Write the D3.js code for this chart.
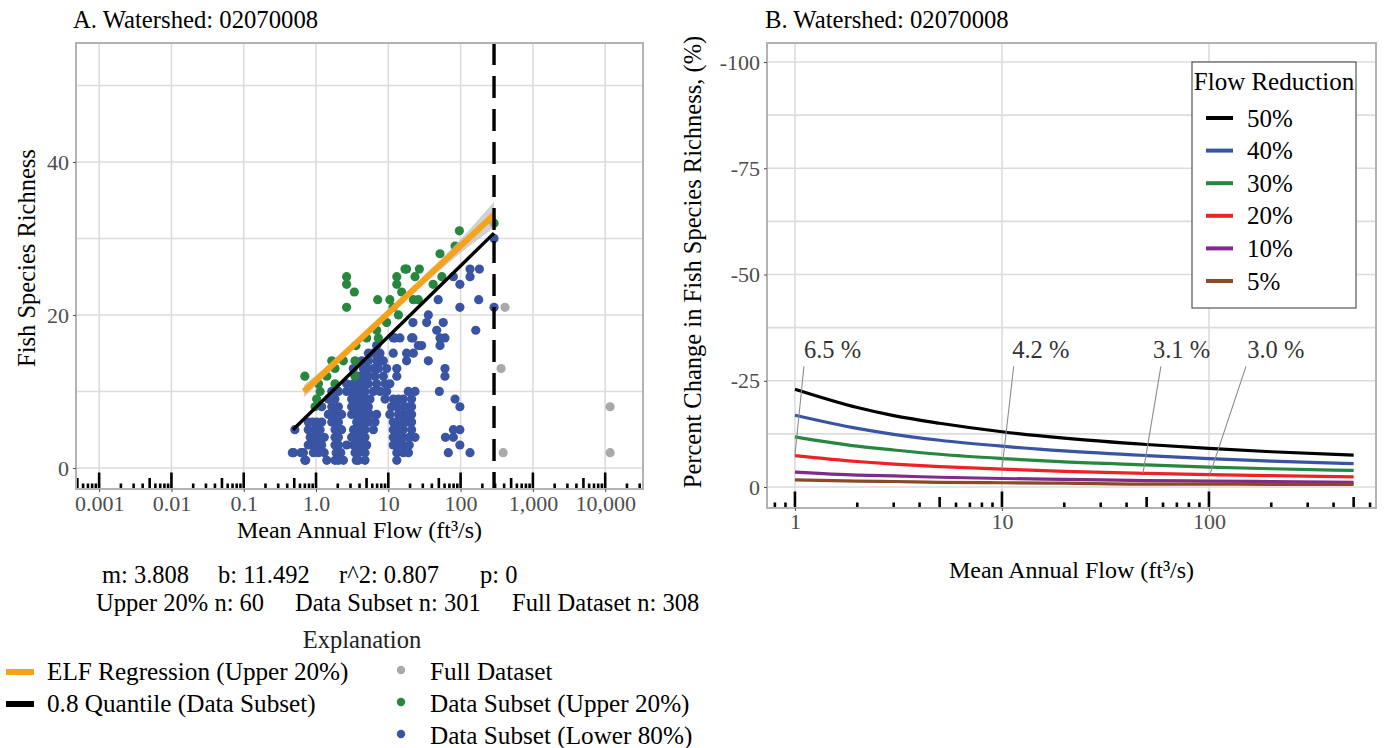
<!DOCTYPE html>
<html>
<head>
<meta charset="utf-8">
<script src="https://cdnjs.cloudflare.com/ajax/libs/d3/7.8.5/d3.min.js"></script>
<style>
  body { margin: 0; background: #ffffff; }
  svg { font-family: "Liberation Serif", "Times New Roman", serif; }
  .tick text { fill: #4d4d4d; }
</style>
</head>
<body>
<svg id="chart" width="1386" height="748"></svg>
<script>
// ---------- data ----------
const watershed = "02070008";

// points of the full dataset that fall outside the subset: [flow ft3/s, richness]
const fullPoints = [[411, 21], [363, 13], [388, 2], [11700, 8], [11700, 2]];

// data subset, upper 20% (above the 0.8 quantile)
const upperPoints = [
    [0.70, 12], [1.08, 11], [1.14, 10], [1.02, 9], [0.97, 8],
    [1.65, 14], [1.83, 13], [1.83, 11], [3.46, 14], [3.46, 12],
    [3.57, 16], [7.28, 17], [6.90, 18], [9.48, 19], [13.8, 20],
    [2.65, 21], [3.39, 23], [2.65, 24], [2.65, 25], [7.13, 22],
    [10.5, 22], [13.1, 24], [13.1, 25], [15.3, 23], [17.0, 26],
    [17.9, 26], [26.9, 26], [23.4, 25], [22.2, 22], [26.0, 22],
    [41.7, 24], [55.0, 25], [51.9, 28], [83.8, 29], [96.2, 31],
    [290, 32], [1.41, 12], [2.39, 14], [5.02, 17], [11.7, 21]
];

// data subset, lower 80%
const lowerPoints = [
    [0.70, 1], [0.72, 1], [1.41, 1], [1.83, 1], [2.39, 1], [3.85, 1], [4.76, 1], [13.1, 1], [2.04, 1], [3.60, 1],
    [0.47, 2], [0.49, 2], [0.62, 2], [0.67, 2], [0.92, 2], [1.08, 2], [2.04, 2], [3.46, 2], [4.76, 2], [67.6, 2],
    [135, 2], [1.30, 2], [1.90, 2], [2.20, 2], [3.90, 2], [13.1, 2], [16.1, 2], [19.0, 2],
    [0.87, 3], [1.02, 3], [1.20, 3], [1.83, 3], [2.65, 3], [3.65, 3], [5.02, 3], [11.7, 3], [16.1, 3], [97.7, 3],
    [0.78, 3], [2.04, 3], [3.30, 3], [4.30, 3], [13.8, 3], [19.5, 3],
    [0.83, 4], [1.08, 4], [1.83, 4], [3.11, 4], [4.76, 4], [11.7, 4], [13.8, 4], [16.1, 4], [23.4, 4], [61.7, 4],
    [79.4, 4], [0.95, 4], [1.30, 4], [2.04, 4], [3.65, 4], [4.30, 4], [19.5, 4],
    [0.51, 5], [0.78, 5], [0.97, 5], [1.14, 5], [1.83, 5], [2.26, 5], [4.06, 5], [6.21, 5], [16.1, 5], [21.0, 5],
    [79.4, 5], [97.7, 5], [1.02, 5], [3.30, 5], [3.85, 5], [4.76, 5], [13.1, 5], [11.7, 5],
    [0.78, 6], [1.02, 6], [1.65, 6], [2.04, 6], [3.65, 6], [5.30, 6], [6.55, 6], [11.7, 6], [16.1, 6], [21.0, 6],
    [0.90, 6], [1.20, 6], [1.83, 6], [4.30, 6], [13.8, 6], [18.0, 6],
    [1.48, 7], [1.83, 7], [2.26, 7], [3.11, 7], [4.06, 7], [5.58, 7], [6.90, 7], [10.5, 7], [13.8, 7], [16.1, 7],
    [21.0, 7], [3.65, 7], [4.76, 7], [18.9, 7],
    [1.20, 8], [3.65, 8], [4.76, 8], [11.1, 8], [13.1, 8], [21.0, 8], [97.7, 8], [1.65, 8], [2.04, 8], [3.11, 8],
    [4.30, 8], [5.30, 8], [16.1, 8], [18.9, 8],
    [1.48, 9], [3.11, 9], [4.06, 9], [9.00, 9], [11.7, 9], [16.1, 9], [21.0, 9], [83.8, 9], [1.83, 9], [3.65, 9],
    [4.76, 9], [5.58, 9], [13.8, 9],
    [1.65, 10], [2.04, 10], [2.65, 10], [3.65, 10], [4.76, 10], [7.67, 10], [18.9, 10], [23.4, 10], [50.8, 10],
    [3.11, 10], [4.30, 10], [6.21, 10], [9.50, 10],
    [2.65, 11], [3.28, 11], [4.06, 11], [5.30, 11], [9.00, 11], [10.5, 11], [3.65, 11], [4.76, 11], [6.90, 11],
    [3.65, 12], [4.76, 12], [5.30, 12], [6.55, 12], [13.1, 12], [60.8, 12], [4.06, 12], [8.53, 12],
    [3.28, 13], [4.52, 13], [5.02, 13], [6.21, 13], [7.28, 13], [9.48, 13], [13.1, 13], [60.8, 13],
    [4.30, 14], [5.30, 14], [6.90, 14], [8.09, 14], [8.53, 14], [17.9, 14], [35.8, 14],
    [5.30, 15], [6.21, 15], [7.67, 15], [11.7, 15], [17.9, 15], [22.2, 15],
    [6.90, 16], [26.0, 16], [28.9, 16], [51.9, 16],
    [11.7, 17], [12.4, 17], [14.5, 17], [21.0, 17], [21.9, 17], [51.9, 17], [60.8, 17],
    [46.7, 18], [162, 18],
    [21.9, 19], [33.9, 19], [57.5, 19],
    [35.8, 20],
    [97.7, 21], [290, 21],
    [49.0, 22], [178, 22],
    [97.7, 24],
    [79.4, 25], [135, 25],
    [135, 26], [182, 26],
    [290, 30]
];

// fitted lines (ends read at the plot)
const elfFlow = [0.68, 290];
const elfRich = [10.0, 33.1];
const quantFlow = [0.48, 290];
const quantRich = [5.0, 30.7];
const bandFlow = [0.68, 3, 20, 100, 290];
const bandLo = [9.2, 15.3, 22.4, 28.1, 31.4];
const bandHi = [10.8, 16.05, 23.4, 29.9, 34.8];
const cutoffFlow = 290;

const xTicksA = [0.001, 0.01, 0.1, 1, 10, 100, 1000, 10000];
const xLabelsA = ["0.001", "0.01", "0.1", "1.0", "10", "100", "1,000", "10,000"];
const yTicksA = [0, 20, 40];

const statsLine1 = ["m: 3.808", "b: 11.492", "r^2: 0.807", "p: 0"];
const statsLine2 = ["Upper 20% n: 60", "Data Subset n: 301", "Full Dataset n: 308"];

// panel B: percent change in richness for each flow reduction
const reductions = ["50%", "40%", "30%", "20%", "10%", "5%"];
const curveFlow = [1, 2, 3, 5, 10, 20, 50, 100, 200, 500];
const pct50 = [-23.0, -18.7, -16.8, -15.0, -13.0, -11.5, -10.0, -9.1, -8.3, -7.5];
const pct40 = [-16.9, -13.8, -12.4, -11.0, -9.6, -8.5, -7.4, -6.7, -6.1, -5.5];
const pct30 = [-11.8, -9.6, -8.7, -7.7, -6.7, -5.9, -5.2, -4.7, -4.3, -3.9];
const pct20 = [-7.4, -6.0, -5.4, -4.8, -4.2, -3.7, -3.2, -2.9, -2.7, -2.4];
const pct10 = [-3.5, -2.8, -2.6, -2.3, -2.0, -1.8, -1.5, -1.4, -1.3, -1.1];
const pct5 = [-1.7, -1.4, -1.3, -1.1, -1.0, -0.9, -0.7, -0.7, -0.6, -0.6];
const curveColors = ["#000000", "#3a54a4", "#27873f", "#ee2225", "#7f2b8c", "#8a4a26"];

const noteText = ["6.5 %", "4.2 %", "3.1 %", "3.0 %"];
const noteFlow = [1, 10, 48, 101];
const notePct = [-7.4, -4.2, -3.2, -2.9];
const noteLabelFlow = [1.105, 11.2, 53.6, 153];
const noteTopFlow = [1.105, 11.4, 58.6, 151];

const xTicksB = [1, 10, 100];
const yTicksB = [-100, -75, -50, -25, 0];
const yGridB = [-100, -87.5, -75, -62.5, -50, -37.5, -25, -12.5, 0];

// ---------- drawing ----------
const svg = d3.select("#chart");
const gridColor = "#dcdcdc";
const borderColor = "#b3b3b3";
const dotR = 4.6;

function logTicks(g, scale, yBottom) {
    const [lo, hi] = scale.domain();
    const ticks = [];
    for (let e = Math.floor(Math.log10(lo)) - 1; e <= Math.ceil(Math.log10(hi)); e++) {
        for (let m = 1; m <= 9; m++) {
            const v = m * Math.pow(10, e);
            if (v >= lo && v <= hi) ticks.push({ v: v, len: m === 1 ? 16.5 : (m === 5 ? 11 : 5.5) });
        }
    }
    g.selectAll("line.logtick")
        .data(ticks)
        .enter()
        .append("line")
        .attr("class", "logtick")
        .attr("x1", d => scale(d.v))
        .attr("x2", d => scale(d.v))
        .attr("y1", yBottom)
        .attr("y2", d => yBottom - d.len)
        .attr("stroke", "#000")
        .attr("stroke-width", 2.6);
}

// ===== Panel A =====
const A = { left: 76, right: 643, top: 43, bottom: 489 };
const xA = d3.scaleLog()
    .domain([Math.pow(10, -3.32), Math.pow(10, 4.523)])
    .range([A.left, A.right]);
const yA = d3.scaleLinear()
    .domain([-2.75, 55.55])
    .range([A.bottom, A.top]);

const gA = svg.append("g");

gA.append("g")
    .selectAll("line")
    .data(xTicksA)
    .enter()
    .append("line")
    .attr("x1", d => xA(d)).attr("x2", d => xA(d))
    .attr("y1", A.top).attr("y2", A.bottom)
    .attr("stroke", gridColor).attr("stroke-width", 1.6);

gA.append("g")
    .selectAll("line")
    .data(d3.range(0, 51, 10))
    .enter()
    .append("line")
    .attr("x1", A.left).attr("x2", A.right)
    .attr("y1", d => yA(d)).attr("y2", d => yA(d))
    .attr("stroke", gridColor).attr("stroke-width", 1.6);

// points
gA.append("g")
    .selectAll("circle")
    .data(fullPoints)
    .enter()
    .append("circle")
    .attr("cx", d => xA(d[0])).attr("cy", d => yA(d[1]))
    .attr("r", dotR).attr("fill", "#a9a9a9");

gA.append("g")
    .selectAll("circle")
    .data(lowerPoints)
    .enter()
    .append("circle")
    .attr("cx", d => xA(d[0])).attr("cy", d => yA(d[1]))
    .attr("r", dotR).attr("fill", "#3a54a4");

gA.append("g")
    .selectAll("circle")
    .data(upperPoints)
    .enter()
    .append("circle")
    .attr("cx", d => xA(d[0])).attr("cy", d => yA(d[1]))
    .attr("r", dotR).attr("fill", "#27873f");

// confidence band + lines
const band = bandFlow.map((f, i) => ({ f: f, lo: bandLo[i], hi: bandHi[i] }));
gA.append("path")
    .datum(band)
    .attr("d", d3.area()
        .x(d => xA(d.f))
        .y0(d => yA(d.lo))
        .y1(d => yA(d.hi))
        .curve(d3.curveMonotoneX))
    .attr("fill", "#bdbdbd")
    .attr("opacity", 0.7);

gA.append("path")
    .datum(elfFlow.map((f, i) => [f, elfRich[i]]))
    .attr("d", d3.line().x(d => xA(d[0])).y(d => yA(d[1])))
    .attr("stroke", "#f7a21b").attr("stroke-width", 6).attr("fill", "none");

gA.append("path")
    .datum(quantFlow.map((f, i) => [f, quantRich[i]]))
    .attr("d", d3.line().x(d => xA(d[0])).y(d => yA(d[1])))
    .attr("stroke", "#000").attr("stroke-width", 3.4).attr("fill", "none");

gA.append("line")
    .attr("x1", xA(cutoffFlow)).attr("x2", xA(cutoffFlow))
    .attr("y1", A.top).attr("y2", A.bottom)
    .attr("stroke", "#000").attr("stroke-width", 3.4)
    .attr("stroke-dasharray", "22,11");

logTicks(gA, xA, A.bottom);

gA.append("rect")
    .attr("x", A.left).attr("y", A.top)
    .attr("width", A.right - A.left).attr("height", A.bottom - A.top)
    .attr("fill", "none").attr("stroke", borderColor).attr("stroke-width", 2);

// axes
const xAxisA = d3.axisBottom(xA)
    .tickValues(xTicksA)
    .tickFormat((d, i) => xLabelsA[i])
    .tickSize(3)
    .tickPadding(3);
gA.append("g")
    .attr("transform", "translate(0," + A.bottom + ")")
    .call(xAxisA)
    .call(g => g.select(".domain").remove())
    .call(g => g.selectAll(".tick line").attr("stroke", "#4d4d4d"))
    .call(g => g.selectAll(".tick text").attr("font-size", 22).attr("font-family", "Liberation Serif"));

const yAxisA = d3.axisLeft(yA)
    .tickValues(yTicksA)
    .tickFormat(d => String(d))
    .tickSize(3)
    .tickPadding(4);
gA.append("g")
    .attr("transform", "translate(" + A.left + ",0)")
    .call(yAxisA)
    .call(g => g.select(".domain").remove())
    .call(g => g.selectAll(".tick line").attr("stroke", "#4d4d4d"))
    .call(g => g.selectAll(".tick text").attr("font-size", 22).attr("font-family", "Liberation Serif"));

svg.append("text")
    .attr("x", 73).attr("y", 27.5)
    .attr("font-size", 24.7)
    .text("A. Watershed: " + watershed);

svg.append("text")
    .attr("x", (A.left + A.right) / 2).attr("y", 538)
    .attr("text-anchor", "middle").attr("font-size", 24)
    .text("Mean Annual Flow (ft\u00b3/s)");

svg.append("text")
    .attr("transform", "translate(35," + 258 + ") rotate(-90)")
    .attr("text-anchor", "middle").attr("font-size", 24.5)
    .text("Fish Species Richness");

// stats + explanation
const stats1X = [102, 218, 339, 480];
const stats2X = [96, 295, 512];
svg.append("g")
    .selectAll("text")
    .data(statsLine1)
    .enter()
    .append("text")
    .attr("x", (d, i) => stats1X[i]).attr("y", 583)
    .attr("font-size", 24.5)
    .text(d => d);
svg.append("g")
    .selectAll("text")
    .data(statsLine2)
    .enter()
    .append("text")
    .attr("x", (d, i) => stats2X[i]).attr("y", 611)
    .attr("font-size", 24.5)
    .text(d => d);

svg.append("text")
    .attr("x", 362).attr("y", 648)
    .attr("text-anchor", "middle").attr("font-size", 24.5)
    .attr("fill", "#222")
    .text("Explanation");

const lineKeys = [
    { label: "ELF Regression (Upper 20%)", color: "#f7a21b" },
    { label: "0.8 Quantile (Data Subset)", color: "#000000" }
];
const pointKeys = [
    { label: "Full Dataset", color: "#a9a9a9" },
    { label: "Data Subset (Upper 20%)", color: "#27873f" },
    { label: "Data Subset (Lower 80%)", color: "#3a54a4" }
];
const keyRowY = [672, 704, 736];

const lk = svg.append("g").selectAll("g").data(lineKeys).enter().append("g");
lk.append("line")
    .attr("x1", 6).attr("x2", 34)
    .attr("y1", (d, i) => keyRowY[i]).attr("y2", (d, i) => keyRowY[i])
    .attr("stroke", d => d.color).attr("stroke-width", 6);
lk.append("text")
    .attr("x", 47).attr("y", (d, i) => keyRowY[i] + 8)
    .attr("font-size", 25.2)
    .text(d => d.label);

const pk = svg.append("g").selectAll("g").data(pointKeys).enter().append("g");
pk.append("circle")
    .attr("cx", 401).attr("cy", (d, i) => keyRowY[i] - 2)
    .attr("r", 4.2).attr("fill", d => d.color);
pk.append("text")
    .attr("x", 430).attr("y", (d, i) => keyRowY[i] + 8)
    .attr("font-size", 25.2)
    .text(d => d.label);

// ===== Panel B =====
const B = { left: 767, right: 1376, top: 43, bottom: 508 };
const xB = d3.scaleLog()
    .domain([Math.pow(10, -0.135), Math.pow(10, 2.807)])
    .range([B.left, B.right]);
const yB = d3.scaleLinear()
    .domain([4.94, -104.47])
    .range([B.bottom, B.top]);

const gB = svg.append("g");

gB.append("g")
    .selectAll("line")
    .data(xTicksB)
    .enter()
    .append("line")
    .attr("x1", d => xB(d)).attr("x2", d => xB(d))
    .attr("y1", B.top).attr("y2", B.bottom)
    .attr("stroke", gridColor).attr("stroke-width", 1.6);

gB.append("g")
    .selectAll("line")
    .data(yGridB)
    .enter()
    .append("line")
    .attr("x1", B.left).attr("x2", B.right)
    .attr("y1", d => yB(d)).attr("y2", d => yB(d))
    .attr("stroke", gridColor).attr("stroke-width", 1.6);

const series = [pct50, pct40, pct30, pct20, pct10, pct5];
const curveLine = d3.line()
    .x(d => xB(d[0]))
    .y(d => yB(d[1]))
    .curve(d3.curveMonotoneX);

gB.append("g")
    .selectAll("path")
    .data(series)
    .enter()
    .append("path")
    .attr("d", s => curveLine(curveFlow.map((f, i) => [f, s[i]])))
    .attr("stroke", (d, i) => curveColors[i])
    .attr("stroke-width", 3.2)
    .attr("fill", "none");

// leader lines and labels
const notes = noteText.map((t, i) => ({
    t: t, f: noteFlow[i], p: notePct[i], lf: noteLabelFlow[i], tf: noteTopFlow[i]
}));
gB.append("g")
    .selectAll("line")
    .data(notes)
    .enter()
    .append("line")
    .attr("x1", d => xB(d.f)).attr("y1", d => yB(d.p))
    .attr("x2", d => xB(d.tf)).attr("y2", d => yB(-28.4))
    .attr("stroke", "#8c8c8c").attr("stroke-width", 1.1);
gB.append("g")
    .selectAll("text")
    .data(notes)
    .enter()
    .append("text")
    .attr("x", d => xB(d.lf)).attr("y", yB(-30.3))
    .attr("font-size", 24.5).attr("fill", "#333")
    .text(d => d.t);

logTicks(gB, xB, B.bottom);

gB.append("rect")
    .attr("x", B.left).attr("y", B.top)
    .attr("width", B.right - B.left).attr("height", B.bottom - B.top)
    .attr("fill", "none").attr("stroke", borderColor).attr("stroke-width", 2);

const xAxisB = d3.axisBottom(xB)
    .tickValues(xTicksB)
    .tickFormat(d => String(d))
    .tickSize(3)
    .tickPadding(2);
gB.append("g")
    .attr("transform", "translate(0," + B.bottom + ")")
    .call(xAxisB)
    .call(g => g.select(".domain").remove())
    .call(g => g.selectAll(".tick line").attr("stroke", "#4d4d4d"))
    .call(g => g.selectAll(".tick text").attr("font-size", 22).attr("font-family", "Liberation Serif"));

const yAxisB = d3.axisLeft(yB)
    .tickValues(yTicksB)
    .tickFormat(d => String(d))
    .tickSize(3)
    .tickPadding(4);
gB.append("g")
    .attr("transform", "translate(" + B.left + ",0)")
    .call(yAxisB)
    .call(g => g.select(".domain").remove())
    .call(g => g.selectAll(".tick line").attr("stroke", "#4d4d4d"))
    .call(g => g.selectAll(".tick text").attr("font-size", 22).attr("font-family", "Liberation Serif"));

svg.append("text")
    .attr("x", 765).attr("y", 27.5)
    .attr("font-size", 24.7)
    .text("B. Watershed: " + watershed);

svg.append("text")
    .attr("x", (B.left + B.right) / 2).attr("y", 578)
    .attr("text-anchor", "middle").attr("font-size", 24)
    .text("Mean Annual Flow (ft\u00b3/s)");

svg.append("text")
    .attr("transform", "translate(701," + 262 + ") rotate(-90)")
    .attr("text-anchor", "middle").attr("font-size", 24.5)
    .text("Percent Change in Fish Species Richness, (%)");

// legend box
const leg = svg.append("g").attr("transform", "translate(1192,62)");
leg.append("rect")
    .attr("width", 164).attr("height", 246)
    .attr("fill", "#fff").attr("stroke", "#555").attr("stroke-width", 1.2);
leg.append("text")
    .attr("x", 82).attr("y", 28)
    .attr("text-anchor", "middle").attr("font-size", 25)
    .text("Flow Reduction");
const legItems = leg.selectAll("g.item")
    .data(reductions)
    .enter()
    .append("g")
    .attr("class", "item")
    .attr("transform", (d, i) => "translate(0," + (56 + i * 32.6) + ")");
legItems.append("line")
    .attr("x1", 14).attr("x2", 41)
    .attr("stroke", (d, i) => curveColors[i]).attr("stroke-width", 4);
legItems.append("text")
    .attr("x", 55).attr("y", 8.5)
    .attr("font-size", 25)
    .text(d => d);
</script>
</body>
</html>
